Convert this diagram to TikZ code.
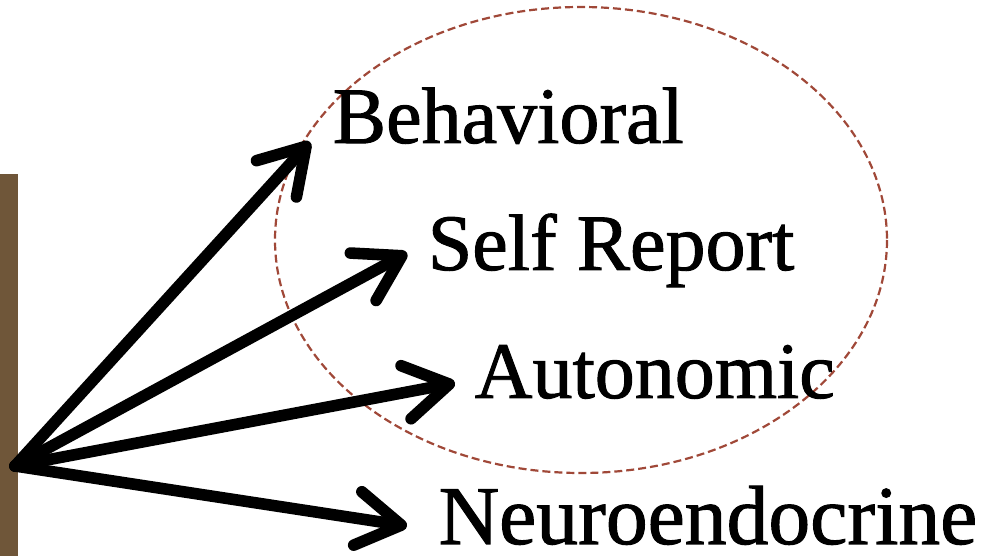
\documentclass[tikz,border=0pt]{standalone}
\usepackage{fontspec}
\setmainfont{Liberation Serif}
\newfontfamily\labelfont[FakeBold=1.2]{Liberation Serif}
\usepackage{tikz}
\usetikzlibrary{arrows.meta}
\usetikzlibrary{positioning}

\definecolor{barbrown}{RGB}{111,86,57}
\definecolor{ringred}{RGB}{160,72,56}

\begin{document}
\begin{tikzpicture}[->,>={Straight Barb[length=22pt,width=27pt,round]},line width=5.8pt,x=0.5pt,y=-0.5pt]
        \useasboundingbox (0,0) rectangle (993,556);

            % Side bar and ring
            \fill[barbrown] (0,174) rectangle (18,556);
            \draw[-,ringred,line width=1.1pt,dash pattern=on 4pt off 2pt] (581,240) ellipse [x radius=306,y radius=233];

            % Measure labels
            \node[anchor=base west,inner sep=0pt,font=\labelfont\fontsize{40}{48}\selectfont] (beh) at (327,143) {Behavioral};
            \node[anchor=base west,inner sep=0pt,font=\labelfont\fontsize{40}{48}\selectfont] (self) at (422,270) {Self Report};
            \node[anchor=base west,inner sep=0pt,font=\labelfont\fontsize{40}{48}\selectfont] (auto) at (469,398) {Autonomic};
            \node[anchor=base west,inner sep=0pt,font=\labelfont\fontsize{41.8}{48}\selectfont] (neuro) at (433,544) {Neuroendocrine};

            % Arrow ends
            \coordinate (src) at (15,466);
            \coordinate (tipB) at (310,142);
            \coordinate (tipS) at (407,253);
            \coordinate (tipA) at (455,383);
            \coordinate (tipN) at (407,526);

            % Arrows from the source to each measure
            \draw[line cap=round] (src) -- (tipB);
            \draw[line cap=round] (src) -- (tipS);
            \draw[line cap=round] (src) -- (tipA);
            \draw[line cap=round] (src) -- (tipN);

        \end{tikzpicture}
\end{document}
